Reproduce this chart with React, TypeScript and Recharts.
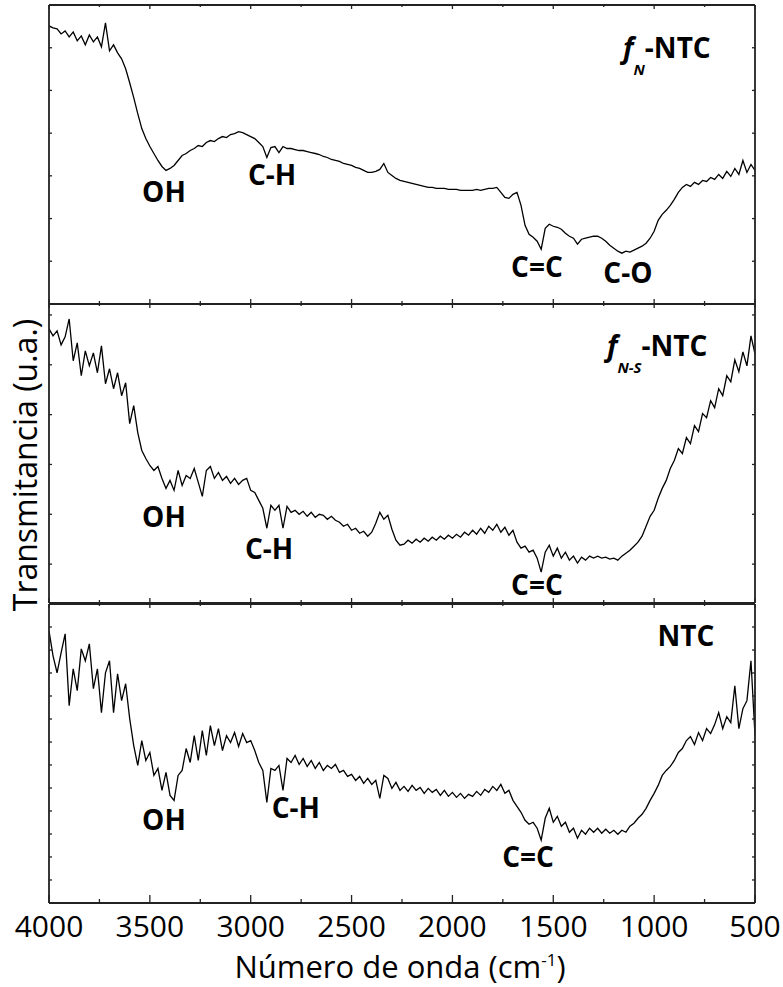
import React from 'react';
import { LineChart, Line, XAxis, YAxis, ReferenceDot } from 'recharts';

const FONT = "'Open Sans', 'Noto Sans', 'DejaVu Sans', sans-serif";
const AXIS_COLOR = '#222';

// Wavenumber grid (cm^-1), spectrometer sampling
const WAVENUMBERS: number[] = Array.from({ length: 176 }, (_, i) => 4000 - 20 * i);

const X_TICKS = [4000, 3750, 3500, 3250, 3000, 2750, 2500, 2250, 2000, 1750, 1500, 1250, 1000, 750, 500];

// f_N-NTC (top panel), arbitrary units
const FN_NTC = [
  279, 277, 276, 271, 274, 268, 273, 264, 269, 260,
  270, 263, 268, 258, 282, 254, 260, 252, 246, 236,
  222, 207, 191, 176, 166, 158, 151, 144, 138, 134,
  136, 139, 144, 149, 151, 154, 156, 159, 158, 162,
  164, 163, 166, 168, 167, 170, 171, 173, 172, 170,
  168, 166, 162, 158, 147, 157, 158, 152, 158, 156,
  156, 155, 154, 154, 153, 152, 151, 150, 148, 147,
  145, 144, 143, 141, 140, 139, 137, 136, 134, 132,
  132, 133, 135, 141, 132, 129, 126, 124, 123, 122,
  121, 120, 119, 118, 117, 117, 116, 116, 116, 115,
  115, 115, 114, 114, 114, 114, 115, 114, 115, 116,
  116, 117, 112, 107, 106, 110, 112, 99, 79, 70,
  67, 63, 55, 76, 80, 78, 77, 75, 71, 68,
  66, 60, 65, 66, 67, 68, 68, 66, 63, 59,
  56, 53, 51, 53, 52, 54, 56, 58, 61, 66,
  73, 84, 90, 94, 99, 105, 112, 117, 120, 118,
  122, 120, 124, 123, 127, 125, 130, 126, 133, 128,
  136, 130, 144, 132, 140, 134,
];

// f_N-S-NTC (middle panel)
const FNS_NTC = [
  275, 268, 273, 259, 267, 285, 243, 261, 228, 253,
  238, 251, 231, 258, 220, 235, 215, 231, 208, 221,
  180, 198, 171, 153, 145, 138, 133, 137, 125, 115,
  123, 113, 133, 118, 128, 125, 135, 121, 107, 133,
  137, 125, 131, 123, 127, 120, 125, 119, 123, 125,
  113, 111, 103, 95, 75, 98, 93, 98, 75, 97,
  91, 93, 89, 92, 87, 91, 86, 89, 88, 84,
  87, 83, 81, 77, 79, 73, 75, 70, 72, 67,
  71, 80, 91, 84, 88, 74, 63, 58, 59, 63,
  60, 64, 61, 65, 62, 66, 63, 67, 64, 68,
  65, 69, 66, 71, 68, 73, 69, 75, 70, 77,
  73, 79, 71, 76, 68, 73, 61, 55, 57, 51,
  53, 45, 31, 51, 58, 47, 55, 45, 51, 43,
  47, 40, 46, 43, 47, 45, 47, 45, 46, 44,
  45, 43, 47, 50, 53, 57, 61, 67, 77, 87,
  93, 105, 115, 123, 135, 143, 155, 150, 166, 160,
  178, 172, 190, 186, 203, 196, 215, 208, 228, 222,
  244, 232, 252, 238, 268, 250,
];

// NTC (bottom panel)
const NTC = [
  273, 248, 231, 251, 270, 198, 235, 213, 255, 243,
  260, 215, 235, 191, 231, 243, 191, 230, 203, 220,
  185, 158, 138, 163, 143, 151, 128, 135, 113, 131,
  108, 103, 128, 133, 155, 141, 168, 143, 173, 148,
  178, 158, 175, 153, 168, 161, 171, 157, 170, 161,
  163, 153, 141, 133, 101, 135, 133, 138, 113, 145,
  141, 148, 139, 145, 137, 143, 135, 141, 133, 138,
  135, 139, 131, 133, 127, 129, 123, 127, 120, 125,
  119, 123, 105, 128, 125, 115, 121, 113, 117, 112,
  118, 113, 116, 110, 115, 111, 114, 108, 113, 107,
  111, 106, 110, 105, 109, 107, 112, 108, 114, 111,
  117, 113, 119, 110, 113, 103, 97, 91, 83, 79,
  81, 75, 63, 85, 95, 81, 87, 77, 81, 71,
  75, 65, 73, 69, 75, 71, 75, 70, 74, 70,
  73, 69, 73, 71, 77, 80, 85, 89, 95, 103,
  110, 118, 128, 133, 137, 143, 151, 155, 163, 167,
  159, 171, 163, 175, 170, 179, 191, 175, 187, 181,
  218, 175, 195, 203, 243, 168,
];

const TOP_TICKS = [42.9, 85.7, 128.6, 171.4, 214.3, 257.1];
const MID_TICKS = [39, 89, 139, 189, 239, 289];
const BOT_TICKS = [23.1, 46.2, 69.2, 92.3, 115.4, 138.5, 161.5, 184.6, 207.7, 230.8, 253.8, 276.9];

type Part = { t: string; italic?: boolean; sub?: boolean };
type Anno = { wn: number; v: number; anchor: 'start' | 'middle'; parts: Part[] };

const TOP_ANNOS: Anno[] = [
  { wn: 3430, v: 102, anchor: 'middle', parts: [{ t: 'OH' }] },
  { wn: 2894, v: 119, anchor: 'middle', parts: [{ t: 'C-H' }] },
  { wn: 1581, v: 27, anchor: 'middle', parts: [{ t: 'C=C' }] },
  { wn: 1130, v: 21, anchor: 'middle', parts: [{ t: 'C-O' }] },
  { wn: 1154, v: 247, anchor: 'start', parts: [{ t: 'f', italic: true }, { t: 'N', italic: true, sub: true }, { t: '-NTC' }] },
];
const MID_ANNOS: Anno[] = [
  { wn: 3430, v: 76, anchor: 'middle', parts: [{ t: 'OH' }] },
  { wn: 2909, v: 44, anchor: 'middle', parts: [{ t: 'C-H' }] },
  { wn: 1581, v: 8, anchor: 'middle', parts: [{ t: 'C=C' }] },
  { wn: 1234, v: 248, anchor: 'start', parts: [{ t: 'f', italic: true }, { t: 'N-S', italic: true, sub: true }, { t: '-NTC' }] },
];
const BOT_ANNOS: Anno[] = [
  { wn: 3430, v: 73, anchor: 'middle', parts: [{ t: 'OH' }] },
  { wn: 2776, v: 85, anchor: 'middle', parts: [{ t: 'C-H' }] },
  { wn: 1625, v: 36, anchor: 'middle', parts: [{ t: 'C=C' }] },
  { wn: 842, v: 258, anchor: 'middle', parts: [{ t: 'NTC' }] },
];

const DATA = WAVENUMBERS.map((wn, i) => ({ wn, fn: FN_NTC[i], fns: FNS_NTC[i], ntc: NTC[i] }));

function XTick(props: any) {
  const { x, y, payload, side, showLabel, majorLen, minorLen } = props;
  const v = payload.value;
  const major = v % 500 === 0;
  const len = major ? majorLen : minorLen;
  const dir = side === 'bottom' ? -1 : 1;
  return (
    <g>
      <line x1={x} y1={y} x2={x} y2={y + dir * len} stroke={AXIS_COLOR} strokeWidth={1.3} />
      {showLabel && major ? (
        <text x={x} y={y + 34} textAnchor="middle" fontSize={30} fontFamily={FONT} fill="#000">
          {v}
        </text>
      ) : null}
    </g>
  );
}

function YTick(props: any) {
  const { x, y, side } = props;
  const dir = side === 'left' ? 1 : -1;
  return <line x1={x} y1={y} x2={x + dir * 3} y2={y} stroke={AXIS_COLOR} strokeWidth={1.3} />;
}

function AnnoLabel(props: any) {
  const { viewBox, anno } = props;
  if (!viewBox) return null;
  const cx = viewBox.x + (viewBox.width || 0) / 2;
  const cy = viewBox.y + (viewBox.height || 0) / 2;
  let prevSub = false;
  return (
    <text x={cx} y={cy} textAnchor={anno.anchor} fontFamily={FONT} fontWeight="bold" fontSize={28} fill="#000">
      {anno.parts.map((p: Part, i: number) => {
        const dy = p.sub ? 17 : prevSub ? -17 : 0;
        prevSub = !!p.sub;
        return (
          <tspan key={i} fontStyle={p.italic ? 'italic' : 'normal'} fontSize={p.sub ? 15 : 28} dy={dy}>
            {p.t}
          </tspan>
        );
      })}
    </text>
  );
}

function Panel(props: { top: number; dataKey: string; yTicks: number[]; annos: Anno[]; showXLabels: boolean }) {
  const { top, dataKey, yTicks, annos, showXLabels } = props;
  const bottomMargin = showXLabels ? 84 : 0;
  const axisLine = { stroke: AXIS_COLOR, strokeWidth: 1.8 };
  return (
    <div style={{ position: 'absolute', left: 0, top }}>
      <LineChart
        width={783}
        height={5 + 299 + bottomMargin}
        data={DATA}
        margin={{ top: 4, right: 27, bottom: bottomMargin - 1, left: 48 }}
      >
        <XAxis
          xAxisId="b"
          dataKey="wn"
          type="number"
          domain={[500, 4000]}
          reversed
          allowDataOverflow
          ticks={X_TICKS}
          interval={0}
          height={1}
          tickSize={0}
          tickMargin={0}
          tickLine={false}
          axisLine={axisLine}
          tick={(p: any) => (
            <XTick {...p} side="bottom" showLabel={showXLabels} majorLen={showXLabels ? 8 : 5} minorLen={showXLabels ? 4 : 3} />
          )}
        />
        <XAxis
          xAxisId="t"
          orientation="top"
          dataKey="wn"
          type="number"
          domain={[500, 4000]}
          reversed
          allowDataOverflow
          ticks={X_TICKS}
          interval={0}
          height={1}
          tickSize={0}
          tickMargin={0}
          tickLine={false}
          axisLine={axisLine}
          tick={(p: any) => <XTick {...p} side="top" showLabel={false} majorLen={4} minorLen={2} />}
        />
        <YAxis
          yAxisId="l"
          type="number"
          domain={[0, 300]}
          allowDataOverflow
          ticks={yTicks}
          interval={0}
          width={1}
          tickSize={0}
          tickMargin={0}
          tickLine={false}
          axisLine={axisLine}
          tick={(p: any) => <YTick {...p} side="left" />}
        />
        <YAxis
          yAxisId="r"
          orientation="right"
          type="number"
          domain={[0, 300]}
          allowDataOverflow
          ticks={yTicks}
          interval={0}
          width={1}
          tickSize={0}
          tickMargin={0}
          tickLine={false}
          axisLine={axisLine}
          tick={(p: any) => <YTick {...p} side="right" />}
        />
        <Line
          xAxisId="b"
          yAxisId="l"
          type="linear"
          dataKey={dataKey}
          stroke="#000"
          strokeWidth={1.3}
          dot={false}
          activeDot={false}
          isAnimationActive={false}
        />
        {annos.map((a, i) => (
          <ReferenceDot
            key={i}
            xAxisId="b"
            yAxisId="l"
            x={a.wn}
            y={a.v}
            r={1}
            fill="none"
            stroke="none"
            label={<AnnoLabel anno={a} />}
          />
        ))}
      </LineChart>
    </div>
  );
}

export default function App() {
  return (
    <div style={{ position: 'absolute', left: 0, top: 0, width: 783, height: 987, background: '#fff' }}>
      <Panel top={0} dataKey="fn" yTicks={TOP_TICKS} annos={TOP_ANNOS} showXLabels={false} />
      <Panel top={299} dataKey="fns" yTicks={MID_TICKS} annos={MID_ANNOS} showXLabels={false} />
      <Panel top={599} dataKey="ntc" yTicks={BOT_TICKS} annos={BOT_ANNOS} showXLabels={true} />
      <svg
        width={783}
        height={987}
        style={{ position: 'absolute', left: 0, top: 0, pointerEvents: 'none' }}
      >
        <text
          transform="translate(37,465) rotate(-90)"
          textAnchor="middle"
          fontSize={32}
          fontFamily={FONT}
          fill="#000"
        >
          Transmitancia (u.a.)
        </text>
        <text x={400} y={978} textAnchor="middle" fontSize={31} fontFamily={FONT} fill="#000">
          Número de onda (cm
          <tspan fontSize={17} dy={-12}>-1</tspan>
          <tspan dy={12}>)</tspan>
        </text>
      </svg>
    </div>
  );
}
